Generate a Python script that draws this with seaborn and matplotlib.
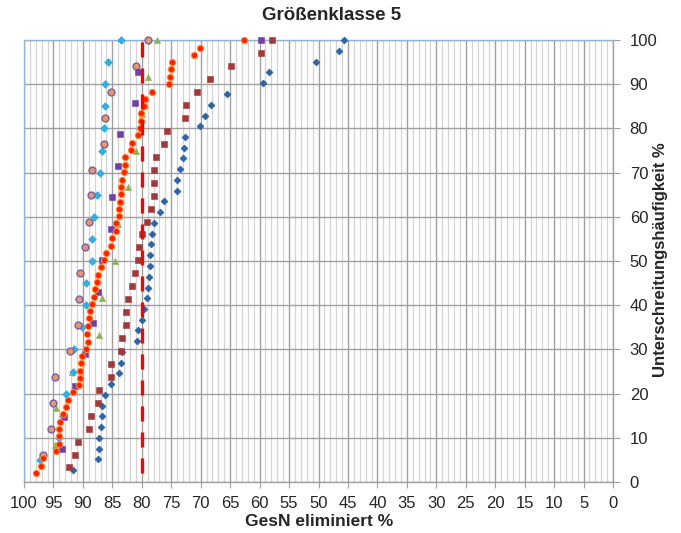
import matplotlib
matplotlib.use("Agg")
import matplotlib.pyplot as plt
import seaborn as sns
import pandas as pd

sns.set_style("white")
plt.rcParams['font.family'] = ['Liberation Sans', 'DejaVu Sans']

# ---- data ----
blue_x = [91.7, 87.4, 87.2, 87.2, 87.0, 86.8, 86.7, 86.2, 85.2, 83.8, 83.5, 83.4, 80.8, 80.6, 80.0,
          79.7, 79.2, 79.0, 78.8, 78.6, 78.6, 78.5, 78.3, 78.0, 76.9, 76.3, 74.0, 74.0, 73.5, 73.05,
          72.9, 72.7, 70.2, 69.3, 68.3, 65.6, 59.4, 58.4, 50.4, 46.6, 45.6]
blue_y = [2.7, 5.1, 7.5, 10.0, 12.4, 14.9, 17.3, 19.7, 22.2, 24.6, 27.0, 29.3, 31.8, 34.3, 36.7,
          39.1, 41.6, 44.0, 46.4, 48.9, 51.4, 53.8, 56.2, 58.6, 61.0, 63.5, 65.9, 68.3, 70.8, 73.2,
          75.6, 78.1, 80.5, 82.9, 85.4, 87.8, 90.2, 92.7, 95.1, 97.5, 100.0]

darkred_x = [92.4, 91.4, 90.85, 88.9, 88.6, 87.5, 87.2, 85.2, 85.3, 83.45, 83.3, 82.7, 82.6, 82.4,
             81.7, 81.1, 80.7, 80.45, 80.0, 79.2, 78.5, 78.0, 78.0, 78.0, 77.6, 76.3, 75.7, 72.7,
             72.5, 70.6, 68.4, 64.8, 59.7, 57.85]
darkred_y = [3.3, 6.2, 9.1, 12.1, 15.0, 17.9, 20.8, 23.8, 26.8, 29.6, 32.6, 35.5, 38.5, 41.4,
             44.3, 47.2, 50.2, 53.1, 56.0, 58.9, 61.8, 64.8, 67.7, 70.7, 73.6, 76.5, 79.5, 82.4,
             85.3, 88.2, 91.2, 94.1, 97.1, 100.0]

red_x = [98.0, 97.1, 96.8, 94.5, 94.1, 94.0, 94.0, 93.9, 93.3, 92.8, 92.5, 91.6, 90.6, 90.5, 90.5,
         90.3, 90.2, 89.4, 89.2, 89.25, 89.2, 88.9, 88.8, 88.4, 88.1, 88.0, 87.6, 87.5, 87.0, 86.4,
         86.1, 85.3, 85.1, 84.4, 84.3, 83.8, 83.8, 83.7, 83.6, 83.6, 83.3, 83.0, 82.9, 82.9, 81.75,
         81.7, 80.7, 80.3, 80.2, 80.06, 79.6, 79.4, 78.25, 75.3, 75.2, 74.97, 74.86, 71.1, 70.2, 62.7]
red_y = [1.96, 3.6, 5.4, 7.0, 8.6, 10.3, 11.9, 13.65, 15.3, 16.9, 18.6, 20.3, 21.95, 23.6, 25.2,
         26.85, 28.5, 30.2, 31.75, 33.5, 35.3, 37.0, 38.6, 40.3, 41.9, 43.6, 45.25, 46.9, 48.6, 50.2,
         51.9, 53.5, 55.1, 56.9, 58.5, 60.2, 61.8, 63.4, 65.1, 66.7, 68.4, 70.1, 71.8, 73.5, 75.1,
         76.8, 78.4, 80.1, 81.7, 83.4, 85.1, 86.7, 88.3, 90.0, 91.7, 93.4, 94.95, 96.7, 98.3, 100.0]

purple_x = [93.6, 93.2, 91.4, 89.7, 88.25, 87.5, 86.7, 85.3, 85.0, 84.0, 83.7, 81.1, 80.7, 59.8]
purple_y = [7.5, 14.6, 21.7, 28.9, 35.9, 43.0, 50.2, 57.2, 64.4, 71.6, 78.7, 85.8, 92.8, 100.0]

cyan_x = [97.3, 94.0, 93.3, 92.8, 91.75, 91.5, 90.1, 89.5, 89.4, 88.5, 88.4, 88.1, 87.6, 87.1,
          86.7, 86.4, 86.2, 86.2, 85.8, 83.5]
cyan_y = [5, 10, 15, 20, 25, 30, 35, 40, 45, 50, 55, 60, 65, 70, 75, 80, 85, 90, 95, 100]

orange_x = [96.7, 95.5, 95.0, 94.75, 92.15, 90.9, 90.6, 90.5, 89.7, 89.0, 88.65, 88.5, 86.5,
            86.2, 85.2, 81.0, 79.0]
orange_y = [6.1, 12.0, 17.95, 23.8, 29.7, 35.5, 41.4, 47.2, 53.1, 58.9, 64.9, 70.7, 76.5, 82.4,
            88.2, 94.2, 100.0]

green_x = [94.75, 94.5, 91.8, 87.3, 86.7, 84.5, 84.0, 82.4, 80.9, 80.0, 78.9, 77.35]
green_y = [8.3, 16.7, 25.0, 33.3, 41.7, 50.0, 58.3, 66.7, 75.0, 83.3, 91.7, 100.0]

limit_x = [80, 80]
limit_y = [2, 100]

x_ticks = list(range(0, 101, 5))
y_ticks = list(range(0, 101, 10))

# ---- figure ----
fig = plt.figure(figsize=(6.81, 5.33), dpi=100)
ax = fig.add_axes([24/681, 1-482/533, (613-24)/681, (482-40)/533])

series = [
    (blue_x, blue_y, 'D', 13, '#2E64A6', '#2E64A6', 0.4),
    (darkred_x, darkred_y, 's', 17, '#A0393A', '#A0393A', 0.4),
    (green_x, green_y, '^', 20, '#8DB255', '#8DB255', 0.4),
    (cyan_x, cyan_y, 'D', 16, '#2FB0E0', '#2FB0E0', 0.4),
    (orange_x, orange_y, 'o', 24, '#E8996A', '#8064A2', 1.1),
    (purple_x, purple_y, 's', 17, '#7040A8', '#7040A8', 0.4),
    (red_x, red_y, 'o', 20, '#FF1E00', '#FF8A30', 0.8),
]
for xs, ys, m, s, fc, ec, lw in series:
    df = pd.DataFrame({'x': xs, 'y': ys})
    sns.scatterplot(data=df, x='x', y='y', ax=ax, marker=m, s=s, color=fc,
                    edgecolor=ec, linewidth=lw, clip_on=False, zorder=3)

ax.plot(limit_x, limit_y, color='#FF0000', lw=2.4, linestyle=(0, (4.5, 3.3)),
        zorder=4, solid_capstyle='butt', dash_capstyle='butt')

ax.set_xlim(100, 0)
ax.set_ylim(0, 100)
ax.set_xticks(x_ticks)
ax.set_xticks(range(0, 101, 1), minor=True)
ax.set_yticks(y_ticks)
ax.set_xticklabels([str(t) for t in x_ticks])
ax.yaxis.tick_right()
ax.yaxis.set_label_position('right')

ax.grid(which='minor', axis='x', color='#D4D4D4', lw=0.9, zorder=0)
ax.grid(which='major', axis='x', color='#A0A0A0', lw=1.0, zorder=0)
ax.grid(which='major', axis='y', color='#A0A0A0', lw=1.0, zorder=0)
ax.set_axisbelow(True)

ax.tick_params(axis='x', which='major', direction='out', length=4, color='#A0A0A0',
               labelsize=12, pad=6, bottom=True)
ax.tick_params(axis='x', which='minor', length=0)
ax.tick_params(axis='y', which='major', direction='out', length=5, color='#A0A0A0',
               labelsize=12, pad=7, right=True, left=False)

for side in ['left', 'top']:
    ax.spines[side].set_color('#95B3D7')
    ax.spines[side].set_linewidth(1.0)
for side in ['right', 'bottom']:
    ax.spines[side].set_color('#A0A0A0')
    ax.spines[side].set_linewidth(1.0)

ax.set_xlabel('')
ax.set_ylabel('')
fig.text(319/681, 1-521/533, 'GesN eliminiert %', fontsize=12.5, fontweight='bold',
         ha='center', va='center')
fig.text(660/681, 1-260/533, 'Unterschreitungshäufigkeit %', rotation=90, fontsize=12,
         fontweight='bold', ha='center', va='center')
fig.text(332/681, 1-15/533, 'Größenklasse 5', fontsize=13.5, fontweight='bold',
         ha='center', va='center')

fig.savefig('out.png', dpi=100)
